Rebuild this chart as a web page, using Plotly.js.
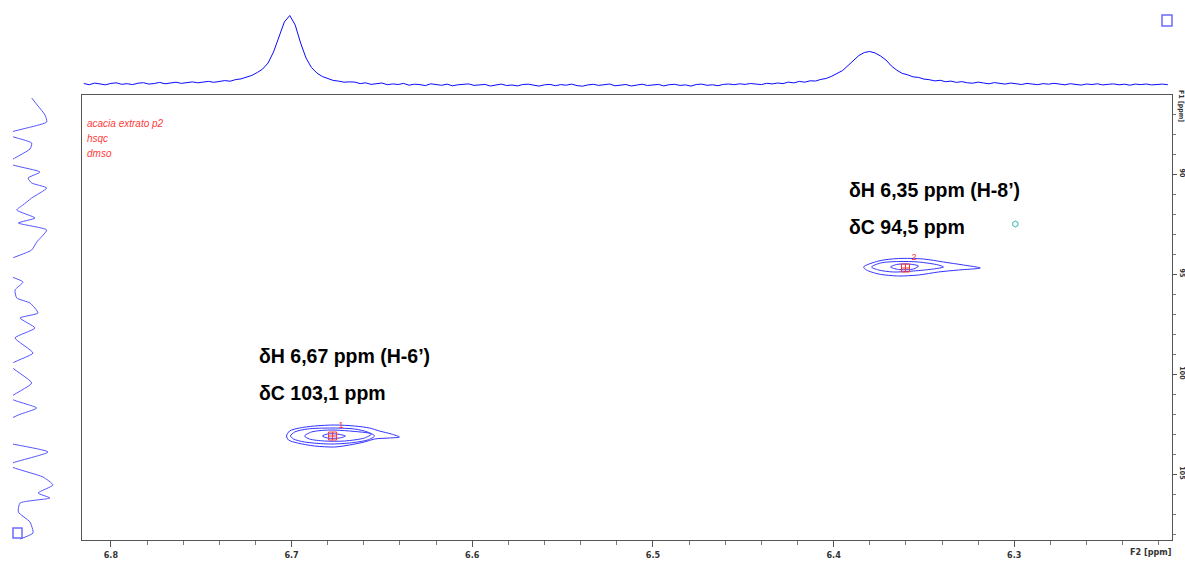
<!DOCTYPE html>
<html>
<head>
<meta charset="utf-8">
<script src="https://cdn.plot.ly/plotly-3.0.1.min.js"></script>
<style>html,body{margin:0;padding:0;background:#fff;}#plot{width:1185px;height:561px;}</style>
</head>
<body>
<div id="plot"></div>
<script>
// ---- Top (F2) 1D projection: sampled from 6.815 ppm downward every 0.003 ppm ----
const f2Start = 6.815;
const f2Step = 0.003;
const f2Intensity = [
  1.5, 0.3, 1.9, 1.0, 0.2, 1.6, 2.2, 0.7, 1.3, 0.4,
  1.8, 2.3, 0.9, 1.5, 2.6, 1.2, 1.9, 2.8, 1.6, 2.4,
  3.1, 2.2, 2.9, 3.6, 2.7, 3.9, 4.4, 3.8, 5.4, 6.1,
  8.0, 9.6, 12.5, 16.0, 22.0, 33.0, 48.0, 63.0,
  69.5,
  60.0, 42.0, 27.0, 17.5, 12.0, 8.5, 6.3, 4.6, 3.9, 2.8, 3.1,
  2.9, 1.4, 2.2, 0.6, 1.5, 2.0, 0.3, 1.1, 0.5, 1.6,
  -0.2, 0.8, 0.4, -0.6, 1.2, 0.1, -0.3, 0.9, -0.8, 0.2,
  0.7, 1.1, -0.4, -0.1, 0.6, -1.0, 0.3, 0.9, -0.5, 0.0,
  -0.9, 0.5, 0.8, -0.3, -1.1, 0.2, 0.6, -0.7, 0.4, -0.2,
  0.9, -0.6, -1.2, 0.1, 0.7, -0.4, 0.3, 1.0, -0.8, -0.2,
  0.5, -1.0, 0.2, 0.8, -0.5, -0.1, 0.6, -0.9, 0.3, 0.7,
  -0.4, 0.1, -1.1, 0.5, 0.9, -0.3, 0.2, -0.7, 0.6, 1.0,
  0.3, 1.2, 0.6, 1.5, 0.8, 0.4, 1.7, 1.1, 2.0, 1.4,
  2.9, 2.1, 3.6, 2.8, 4.2, 4.0, 5.6, 6.6,
  8.8, 11.5, 14.5, 19.5, 25.0, 29.5, 32.5, 33.5, 32.0, 29.0, 25.0, 19.0,
  14.8, 11.6, 10.2, 8.1, 7.6, 5.9, 5.3, 4.1, 4.7, 3.3,
  3.9, 2.6, 3.4, 2.2, 1.8, 2.9, 2.0, 1.2, 2.4, 1.5,
  0.9, 2.0, 1.3, 0.5, 1.6, 1.1, 0.3, 1.4, 0.8, 1.7,
  0.6, 0.2, 1.3, 0.9, -0.1, 1.0, 0.5, 1.2, 0.1, 0.7,
  1.1, 0.2, 0.8, -0.2, 0.9, 0.4, 1.0, 0.1, 0.6, 0.9, 0.3
];
const f2Ppm = f2Intensity.map((_, i) => f2Start - f2Step * i);

// ---- Left (F1) 1D projection ----
const f1Ppm = [86.2, 86.6, 87.05, 87.4, 88.0, 88.45, 88.75, 89.45, 89.9, 90.2, 90.45, 90.7, 91.2, 91.55, 91.8, 92.2, 92.45, 92.8, 93.4, 93.8, 94.7, 95.4, 95.8, 96.2, 96.45, 96.95, 97.2, 97.7, 98.2, 98.95, 99.55, 100.45, 101.2, 101.7, 102.05, 103.1, 103.9, 104.55, 105.15, 105.55, 105.95, 106.2, 106.45, 106.9, 107.4, 107.95, 108.25];
const f1Intensity = [31.7, 38, 45, 46.7, 6, 31.7, 30, 8, 40, 28, 31.7, 46.7, 31.7, 23, 16.7, 35, 18.3, 46.7, 36.7, 31.7, -10, 23, 15, 16.7, 30, 38, 20, 35, 15, 33, 10, 31.7, 10, 36.7, 18.3, -20, 48, 8, 43, 53, 38, 50, 20, 18.3, 30, 33, 20];

// ---- HSQC contours, peak 1 (H-6') ----
const c1aH = [6.7028, 6.7011, 6.6956, 6.6873, 6.6762, 6.6652, 6.6569, 6.6514, 6.6448, 6.6403, 6.6459, 6.6541, 6.6597, 6.6680, 6.6762, 6.6873, 6.6967, 6.7017, 6.7028];
const c1aC = [103.1, 102.85, 102.7, 102.6, 102.55, 102.6, 102.7, 102.85, 103.0, 103.15, 103.2, 103.25, 103.4, 103.55, 103.65, 103.6, 103.45, 103.3, 103.1];
const c1bH = [6.7006, 6.6983, 6.6912, 6.6790, 6.6652, 6.6580, 6.6541, 6.6580, 6.6680, 6.6790, 6.6928, 6.6989, 6.7006];
const c1bC = [103.1, 102.9, 102.75, 102.7, 102.75, 102.9, 103.1, 103.3, 103.45, 103.5, 103.4, 103.25, 103.1];
const c1cH = [6.6928, 6.6890, 6.6790, 6.6680, 6.6558, 6.6597, 6.6707, 6.6818, 6.6901, 6.6928];
const c1cC = [103.1, 102.9, 102.8, 102.85, 103.0, 103.2, 103.35, 103.35, 103.25, 103.1];
const c1dH = [6.6829, 6.6801, 6.6751, 6.6702, 6.6735, 6.6801, 6.6829];
const c1dC = [103.1, 103.0, 103.0, 103.1, 103.2, 103.2, 103.1];

// ---- HSQC contours, peak 2 (H-8') ----
const c2aH = [6.3834, 6.3751, 6.3641, 6.3503, 6.3392, 6.3282, 6.3188, 6.3309, 6.3420, 6.3530, 6.3641, 6.3751, 6.3818, 6.3834];
const c2aC = [94.65, 94.35, 94.225, 94.25, 94.4, 94.55, 94.7, 94.8, 94.9, 95.05, 95.1, 95.0, 94.8, 94.65];
const c2bH = [6.3790, 6.3740, 6.3641, 6.3530, 6.3420, 6.3392, 6.3448, 6.3558, 6.3669, 6.3751, 6.3790];
const c2bC = [94.65, 94.45, 94.375, 94.4, 94.55, 94.65, 94.75, 94.85, 94.9, 94.8, 94.65];
const c2cH = [6.3685, 6.3652, 6.3586, 6.3530, 6.3558, 6.3641, 6.3685];
const c2cC = [94.65, 94.525, 94.5, 94.6, 94.75, 94.775, 94.65];

// ---- peak picks and a weak extra contour ----
const pickH = [6.6773, 6.3602];
const pickC = [103.1, 94.7];
const pickLabels = ['1', '2'];
const weakH = [6.2994];
const weakC = [92.5];

// ---- annotation texts ----
const headerLines = ['acacia extrato p2', 'hsqc', 'dmso'];
const assignTexts = ['δH 6,35 ppm (H-8’)', 'δC 94,5 ppm', 'δH 6,67 ppm (H-6’)', 'δC 103,1 ppm'];

const W = 1185, H = 561;
const px = v => v / W;
const py = v => 1 - v / H;

const blue = '#0a0aff';

function contour(x, y) {
  return {type: 'scatter', mode: 'lines', x: x, y: y, xaxis: 'x', yaxis: 'y',
          line: {color: '#3333ff', width: 1, shape: 'spline', smoothing: 0.8},
          hoverinfo: 'skip', showlegend: false};
}

const traces = [
  {type: 'scatter', mode: 'lines', x: f2Ppm, y: f2Intensity, xaxis: 'x2', yaxis: 'y2',
   line: {color: blue, width: 1}, showlegend: false, hoverinfo: 'skip'},
  {type: 'scatter', mode: 'lines', x: f1Intensity, y: f1Ppm, xaxis: 'x3', yaxis: 'y3',
   line: {color: '#5555ff', width: 1, shape: 'spline', smoothing: 0.5}, showlegend: false, hoverinfo: 'skip'},
  contour(c1aH, c1aC), contour(c1bH, c1bC), contour(c1cH, c1cC), contour(c1dH, c1dC),
  contour(c2aH, c2aC), contour(c2bH, c2bC), contour(c2cH, c2cC),
  {type: 'scatter', mode: 'markers+text', x: pickH, y: pickC, xaxis: 'x', yaxis: 'y',
   marker: {symbol: 'square-cross-open', size: 8, color: '#ff3030', line: {width: 1}},
   text: pickLabels, textposition: 'top right', textfont: {size: 9, color: '#ff3030', family: 'Liberation Sans, Arial, sans-serif'},
   showlegend: false, hoverinfo: 'skip'},
  {type: 'scatter', mode: 'markers', x: weakH, y: weakC, xaxis: 'x', yaxis: 'y',
   marker: {symbol: 'hexagon-open', size: 6, color: '#33b5b5', line: {width: 1}},
   showlegend: false, hoverinfo: 'skip'}
];

const tickFont = {family: 'Liberation Sans Narrow, Arial Narrow, DejaVu Sans Condensed, sans-serif', size: 9, color: '#333', weight: 'bold'};

const annotations = [];
headerLines.forEach((t, i) => annotations.push({
  xref: 'paper', yref: 'paper', x: px(85), y: py(123 + i * 15), xanchor: 'left', yanchor: 'middle',
  text: t, showarrow: false,
  font: {family: 'Liberation Sans, Arial, sans-serif', size: 10, color: '#ff3b3b', style: 'italic'}
}));
const assignPos = [[847, 190], [847, 227], [257, 356], [257, 393]];
assignTexts.forEach((t, i) => annotations.push({
  xref: 'paper', yref: 'paper', x: px(assignPos[i][0]), y: py(assignPos[i][1]), xanchor: 'left', yanchor: 'middle',
  text: '<b>' + t + '</b>', showarrow: false,
  font: {family: 'Liberation Sans, Arial, sans-serif', size: 19.5, color: '#000'}
}));
annotations.push({xref: 'paper', yref: 'paper', x: px(1150), y: py(552), xanchor: 'center', yanchor: 'middle',
  text: 'F2 [ppm]', showarrow: false, font: tickFont});
annotations.push({xref: 'paper', yref: 'paper', x: px(1181), y: py(106), xanchor: 'center', yanchor: 'middle',
  text: 'F1 [ppm]', textangle: 90, showarrow: false, font: Object.assign({}, tickFont, {size: 7})});

const layout = {
  width: W, height: H,
  margin: {l: 0, r: 0, t: 0, b: 0},
  paper_bgcolor: '#fff', plot_bgcolor: '#fff',
  showlegend: false,
  xaxis: {
    domain: [px(82), px(1172)], range: [6.816, 6.2127], anchor: 'y',
    showline: true, mirror: true, linecolor: '#555', linewidth: 1,
    ticks: 'outside', ticklen: 6, tickcolor: '#555', tick0: 6.8, dtick: 0.1, tickformat: '.1f',
    minor: {ticks: 'outside', dtick: 0.02, ticklen: 4, tickcolor: '#777', showgrid: false},
    showgrid: false, zeroline: false, tickfont: tickFont
  },
  yaxis: {
    domain: [py(540), py(95)], range: [108.3, 86.05], anchor: 'x', side: 'right',
    showline: true, mirror: true, linecolor: '#555', linewidth: 1,
    ticks: 'outside', ticklen: 4, tickcolor: '#555', tick0: 90, dtick: 5, tickangle: 90,
    minor: {ticks: 'outside', dtick: 1, ticklen: 3, tickcolor: '#777', showgrid: false},
    showgrid: false, zeroline: false, tickfont: Object.assign({}, tickFont, {size: 7})
  },
  xaxis2: {domain: [px(82), px(1172)], range: [6.816, 6.2127], anchor: 'y2', visible: false},
  yaxis2: {domain: [py(90), py(5)], range: [-5, 80], anchor: 'x2', visible: false},
  xaxis3: {domain: [px(13), px(58)], range: [13, 58], anchor: 'y3', visible: false},
  yaxis3: {domain: [py(540), py(95)], range: [108.3, 86.05], anchor: 'x3', visible: false},
  annotations: annotations,
  shapes: [
    {type: 'rect', xref: 'paper', yref: 'paper', x0: px(1162), x1: px(1172), y0: py(26), y1: py(15),
     line: {color: '#6b6bff', width: 1.5}},
    {type: 'rect', xref: 'paper', yref: 'paper', x0: px(13), x1: px(22), y0: py(538), y1: py(528),
     line: {color: '#6b6bff', width: 1.5}}
  ]
};

Plotly.newPlot('plot', traces, layout, {displayModeBar: false, staticPlot: true});
</script>
</body>
</html>
